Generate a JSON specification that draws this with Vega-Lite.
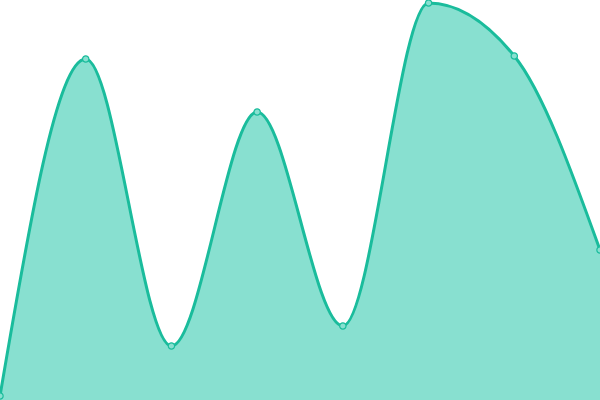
{
  "$schema": "https://vega.github.io/schema/vega-lite/v6.json",
  "autosize": {"type": "none"},
  "width": 600,
  "height": 400,
  "padding": 0,
  "data": {
    "values": [
      {"i": 0, "v": 4},
      {"i": 1, "v": 341},
      {"i": 2, "v": 54},
      {"i": 3, "v": 288},
      {"i": 4, "v": 74},
      {"i": 5, "v": 397},
      {"i": 6, "v": 344},
      {"i": 7, "v": 150}
    ]
  },
  "encoding": {
    "x": {
      "field": "i",
      "type": "quantitative",
      "scale": {"domain": [0, 7], "nice": false, "zero": false},
      "axis": null
    },
    "y": {
      "field": "v",
      "type": "quantitative",
      "scale": {"domain": [0, 400], "nice": false},
      "axis": null
    }
  },
  "layer": [
    {
      "mark": {"type": "area", "interpolate": "monotone", "color": "#88e0d0", "opacity": 1}
    },
    {
      "mark": {"type": "line", "interpolate": "monotone", "color": "#1abc9c", "strokeWidth": 3}
    },
    {
      "mark": {"type": "point", "filled": true, "fill": "#88e0d0", "stroke": "#1abc9c", "strokeWidth": 1.2, "size": 40, "opacity": 1}
    }
  ],
  "config": {"view": {"stroke": null}}
}
